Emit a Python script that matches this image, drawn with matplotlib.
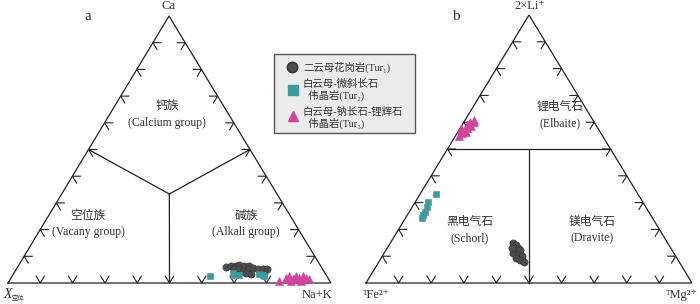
import matplotlib
matplotlib.use("Agg")
import matplotlib.pyplot as plt
import numpy as np
from matplotlib.patches import Rectangle

plt.rcParams['font.family'] = ['Liberation Serif', 'Noto Sans CJK SC', 'DejaVu Sans']

# ---------------- data ----------------
# Panel a: X-site (fractions of Ca and Na+K; X-vacancy = 1 - Ca - NaK)
a_tur1_ca = [0.060, 0.064, 0.064, 0.068, 0.064, 0.064, 0.053, 0.053, 0.045, 0.053, 0.056, 0.038, 0.034, 0.053, 0.053, 0.053, 0.038]
a_tur1_na = [0.644, 0.657, 0.673, 0.680, 0.698, 0.713, 0.672, 0.688, 0.704, 0.719, 0.730, 0.717, 0.735, 0.747, 0.762, 0.775, 0.773]
a_tur2_ca = [0.026, 0.038, 0.030, 0.030, 0.034, 0.030, 0.026]
a_tur2_na = [0.611, 0.677, 0.684, 0.699, 0.759, 0.774, 0.779]
a_tur3_ca = [0.008, 0.019, 0.026, 0.015, 0.026, 0.019, 0.026, 0.019, 0.015, 0.008, 0.008]
a_tur3_na = [0.835, 0.851, 0.857, 0.875, 0.878, 0.891, 0.900, 0.913, 0.924, 0.872, 0.903]

# Panel b: Y-site (fractions of 2xLi and Mg; Fe = 1 - Li - Mg)
b_tur1_li = [0.149, 0.141, 0.130, 0.123, 0.123, 0.112, 0.104, 0.100, 0.093, 0.086, 0.078, 0.130]
b_tur1_mg = [0.377, 0.390, 0.401, 0.396, 0.411, 0.395, 0.414, 0.429, 0.414, 0.429, 0.446, 0.383]
b_tur2_li = [0.331, 0.301, 0.283, 0.264, 0.253, 0.242]
b_tur2_mg = [0.050, 0.040, 0.046, 0.049, 0.049, 0.051]
b_tur3_li = [0.550, 0.560, 0.570, 0.580, 0.590, 0.600, 0.610, 0.565, 0.585, 0.600, 0.575]
b_tur3_mg = [0.010, 0.015, 0.010, 0.020, 0.015, 0.020, 0.025, 0.025, 0.030, 0.030, 0.005]

tick_fracs = [0.1, 0.2, 0.3, 0.4, 0.5, 0.6, 0.7, 0.8, 0.9]

legend_labels = ["二云母花岗岩(Tur₁)",
                 "白云母-微斜长石\n  伟晶岩(Tur₂)",
                 "白云母-钠长石-锂辉石\n  伟晶岩(Tur₃)"]

# ---------------- layout (pixel frame) ----------------
W, H = 700, 304
fig = plt.figure(figsize=(7.0, 3.04), dpi=100)
ax = fig.add_axes([0, 0, 1, 1])
ax.set_xlim(0, W)
ax.set_ylim(H, 0)
ax.axis('off')

LC = '#222222'
C1, C2, C3 = '#4d4d4d', '#3e9b9b', '#d2449e'

# triangle a: apex Ca, left vacancy, right Na+K
A_top = np.array([169.0, 16.0]); A_left = np.array([8.0, 283.0]); A_right = np.array([331.0, 283.0])
# triangle b: apex Li, left Fe, right Mg
B_top = np.array([529.0, 15.0]); B_left = np.array([366.0, 283.0]); B_right = np.array([692.0, 283.0])


def tern(top, left, right, t, r):
    t = np.asarray(t, float); r = np.asarray(r, float)
    l = 1 - t - r
    x = t * top[0] + l * left[0] + r * right[0]
    y = t * top[1] + l * left[1] + r * right[1]
    return x, y


def draw_triangle(top, left, right):
    pts = np.array([left, right, top, left])
    ax.plot(pts[:, 0], pts[:, 1], color=LC, lw=0.9, solid_joinstyle='miter', zorder=2)
    L = 8.0
    for P, Q, R in [(left, right, top), (left, top, right), (top, right, left)]:
        d1 = (R - P) / np.linalg.norm(R - P)
        d2 = (R - Q) / np.linalg.norm(R - Q)
        for f in tick_fracs:
            p = P + f * (Q - P)
            xs = [p[0] + L * d1[0], p[0], p[0] + L * d2[0]]
            ys = [p[1] + L * d1[1], p[1], p[1] + L * d2[1]]
            ax.plot(xs, ys, color=LC, lw=0.8, zorder=2)


draw_triangle(A_top, A_left, A_right)
draw_triangle(B_top, B_left, B_right)

# internal field boundaries, panel a: centroid to edge midpoints
cx, cy = tern(A_top, A_left, A_right, 1/3, 1/3)
for t, r in [(0.5, 0.0), (0.5, 0.5), (0.0, 0.5)]:
    mx, my = tern(A_top, A_left, A_right, t, r)
    ax.plot([cx, mx], [cy, my], color=LC, lw=0.9, zorder=2)

# panel b: Li = 0.5 line and Fe = Mg line below it
x1, y1 = tern(B_top, B_left, B_right, 0.5, 0.0)
x2, y2 = tern(B_top, B_left, B_right, 0.5, 0.5)
ax.plot([x1, x2], [y1, y2], color=LC, lw=0.9, zorder=2)
x1, y1 = tern(B_top, B_left, B_right, 0.5, 0.25)
x2, y2 = tern(B_top, B_left, B_right, 0.0, 0.5)
ax.plot([x1, x2], [y1, y2], color=LC, lw=0.9, zorder=2)

# data points
kw = dict(ls='none', zorder=4, markeredgewidth=0.4)
x, y = tern(A_top, A_left, A_right, a_tur1_ca, a_tur1_na)
ax.plot(x, y, marker='o', ms=5.2, color=C1, mec='#333333', **kw)
x, y = tern(A_top, A_left, A_right, a_tur2_ca, a_tur2_na)
ax.plot(x, y, marker='s', ms=4.6, color=C2, mec=C2, **kw)
x, y = tern(A_top, A_left, A_right, a_tur3_ca, a_tur3_na)
ax.plot(x, y, marker='^', ms=5.2, color=C3, mec=C3, **kw)

x, y = tern(B_top, B_left, B_right, b_tur1_li, b_tur1_mg)
ax.plot(x, y, marker='o', ms=5.2, color=C1, mec='#333333', **kw)
x, y = tern(B_top, B_left, B_right, b_tur2_li, b_tur2_mg)
ax.plot(x, y, marker='s', ms=4.6, color=C2, mec=C2, **kw)
x, y = tern(B_top, B_left, B_right, b_tur3_li, b_tur3_mg)
ax.plot(x, y, marker='^', ms=5.2, color=C3, mec=C3, **kw)

# text
TC = '#333333'
ax.text(88, 16, 'a', fontsize=11, ha='center', va='center', color=TC)
ax.text(456, 16, 'b', fontsize=11, ha='center', va='center', color=TC)
ax.text(169, 6, 'Ca', fontsize=9, ha='center', va='center', color=TC)
ax.text(530, 6, '2×Li⁺', fontsize=9, ha='center', va='center', color=TC)
ax.text(3, 295, 'X', fontsize=10, fontstyle='italic', ha='left', va='center', color=TC)
ax.text(12, 298, '空位', fontsize=4.5, ha='left', va='center', color=TC)
ax.text(317, 295, 'Na+K', fontsize=9, ha='center', va='center', color=TC)
ax.text(377, 295, 'ᵀFe²⁺', fontsize=9, ha='center', va='center', color=TC)
ax.text(682, 295, 'ᵀMg²⁺', fontsize=9, ha='center', va='center', color=TC)

fs = 8.5
for (xx, yy, zh, en) in [(167, 107, '钙族', '(Calcium group)'),
                         (88, 216, '空位族', '(Vacany group)'),
                         (246, 216, '碱族', '(Alkali group)'),
                         (560, 107, '锂电气石', '(Elbaite)'),
                         (470, 222, '黑电气石', '(Schorl)'),
                         (592, 222, '镁电气石', '(Dravite)')]:
    ax.text(xx, yy, zh, fontsize=fs, ha='center', va='center', color=TC)
    ax.text(xx, yy + 16, en, fontsize=fs, ha='center', va='center', color=TC)

# legend box
ax.add_patch(Rectangle((274, 54), 141, 79, facecolor='#ebebeb', edgecolor='#555555', lw=1.0, zorder=3))
ax.plot([292], [67], marker='o', ms=7.5, color=C1, mec='#333333', ls='none', zorder=5)
ax.plot([293], [90], marker='s', ms=6.5, color=C2, mec=C2, ls='none', zorder=5)
ax.plot([293], [116], marker='^', ms=7.5, color=C3, mec=C3, ls='none', zorder=5)
ax.text(303, 67, legend_labels[0], fontsize=7.5, ha='left', va='center', color=TC, zorder=5)
ax.text(303, 90, legend_labels[1], fontsize=7.5, ha='left', va='center', color=TC, zorder=5, linespacing=1.1)
ax.text(303, 118, legend_labels[2], fontsize=7.5, ha='left', va='center', color=TC, zorder=5, linespacing=1.1)

fig.savefig('out.png', dpi=100)
